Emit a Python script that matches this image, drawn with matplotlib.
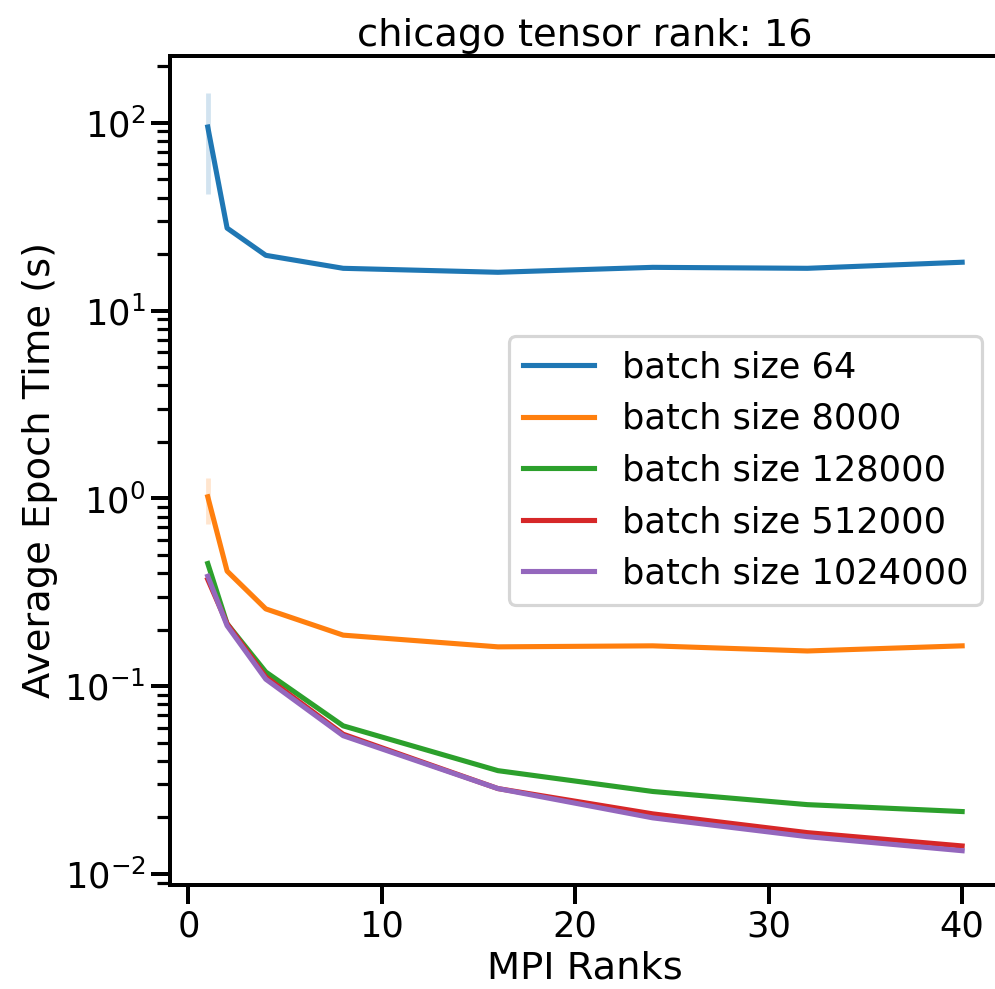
import numpy as np
import matplotlib
matplotlib.use('Agg')
import matplotlib.pyplot as plt
import seaborn as sns

# MPI ranks on x axis
ranks = [1, 2, 4, 8, 16, 24, 32, 40]

# average epoch time per batch size (s)
batch_sizes = [64, 8000, 128000, 512000, 1024000]
t_64 = [95, 27.5, 19.7, 16.8, 16.0, 17.0, 16.8, 18.1]
t_8000 = [1.02, 0.41, 0.258, 0.187, 0.162, 0.164, 0.154, 0.164]
t_128000 = [0.45, 0.215, 0.119, 0.0615, 0.0355, 0.0275, 0.0234, 0.0215]
t_512000 = [0.37, 0.215, 0.112, 0.0555, 0.0285, 0.0209, 0.0166, 0.0141]
t_1024000 = [0.385, 0.21, 0.109, 0.0545, 0.0285, 0.0199, 0.0158, 0.0133]
times = [t_64, t_8000, t_128000, t_512000, t_1024000]

# spread at the first point (1 rank)
err_lo = [42, 0.73, 0.45, 0.37, 0.385]
err_hi = [145, 1.28, 0.45, 0.37, 0.385]

sns.set_context('poster')

fig = plt.figure(figsize=(995 / 115, 989 / 115), dpi=115)
ax = fig.add_axes([0.1709, 0.1052, 0.834, 0.8382])

colors = sns.color_palette()
for i, (bs, t) in enumerate(zip(batch_sizes, times)):
    ax.plot(ranks, t, color=colors[i], lw=3.2, label='batch size %d' % bs)
    ax.vlines(ranks[0], err_lo[i], err_hi[i], color=colors[i], alpha=0.2, lw=3)

ax.set_yscale('log')
ax.set_ylim(0.00874, 227)
ax.set_xlim(-0.95, 41.95)
ax.set_xlabel('MPI Ranks')
ax.set_ylabel('Average Epoch Time (s)')
ax.set_title('chicago tensor rank: 16')
ax.legend(loc='center right')

fig.savefig('out.png', dpi=115)
